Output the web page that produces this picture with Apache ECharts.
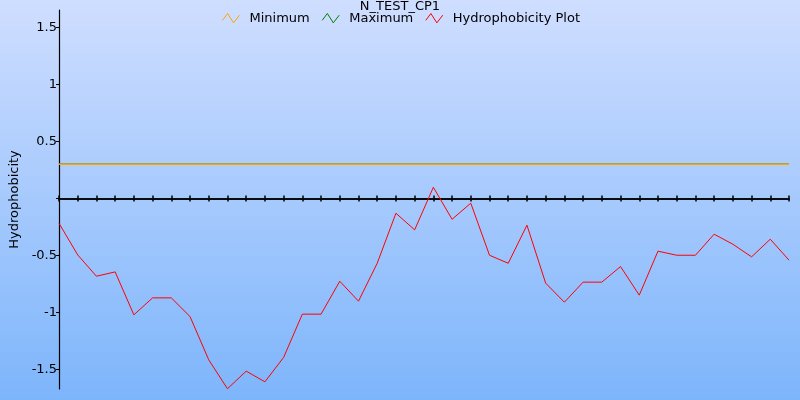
<!DOCTYPE html>
<html>
<head>
<meta charset="utf-8">
<script src="https://cdn.jsdelivr.net/npm/echarts@6/dist/echarts.min.js"></script>
<style>html,body{margin:0;padding:0;}#c{width:800px;height:400px;}</style>
</head>
<body>
<div id="c"></div>
<script>
var positions = ["1","2","3","4","5","6","7","8","9","10","11","12","13","14","15","16","17","18","19","20",
  "21","22","23","24","25","26","27","28","29","30","31","32","33","34","35","36","37","38","39","40"];
var hydrophobicity = [-0.218, -0.496, -0.683, -0.645, -1.022, -0.873, -0.873, -1.037, -1.417, -1.671,
  -1.516, -1.610, -1.396, -1.016, -1.016, -0.727, -0.902, -0.569, -0.130, -0.276,
  0.098, -0.183, -0.042, -0.499, -0.569, -0.235, -0.744, -0.911, -0.735, -0.735,
  -0.598, -0.849, -0.463, -0.499, -0.499, -0.314, -0.402, -0.513, -0.358, -0.542];
var minimumValue = 0.3;
var maximumValue = 0.3;
var minimum = positions.map(function(){ return minimumValue; });
var maximum = positions.map(function(){ return maximumValue; });
var yMin = -1.673, yMax = 1.654;

var font = "DejaVu Sans";
var zig = 'path://M0,8 L6,0 L13,11 L20,2';
var gridBox = {left: 59, right: 11, top: 10, bottom: 11, containLabel: false, outerBoundsMode: 'none'};
var chart = echarts.init(document.getElementById('c'));
chart.setOption({
  animation: false,
  backgroundColor: new echarts.graphic.LinearGradient(0,0,0,1,[{offset:0,color:'#cfdeff'},{offset:1,color:'#7db5fb'}]),
  title: {text: 'N_TEST_CP1', left: 'center', top: -5, textStyle: {fontFamily: font, fontSize: 13, fontWeight: 'normal', color: '#000'}},
  legend: {
    top: 6, left: 'center', itemWidth: 17, itemHeight: 11, itemGap: 10,
    textStyle: {fontFamily: font, fontSize: 13, color: '#000', padding: [0,0,0,5]},
    data: [
      {name: 'Minimum', icon: zig, itemStyle: {color: 'none', borderColor: '#ffa500', borderWidth: 1}},
      {name: 'Maximum', icon: zig, itemStyle: {color: 'none', borderColor: '#008000', borderWidth: 1}},
      {name: 'Hydrophobicity Plot', icon: zig, itemStyle: {color: 'none', borderColor: '#ff0000', borderWidth: 1}}
    ]
  },
  grid: [gridBox, Object.assign({}, gridBox)],
  xAxis: [{
    type: 'category', data: positions, boundaryGap: false, position: 'bottom', gridIndex: 0,
    axisLine: {onZero: true, lineStyle: {color: '#000', width: 1.5}},
    axisTick: {show: true, length: 3, lineStyle: {color: '#000', width: 1.5}, interval: 0},
    axisLabel: {show: false}, splitLine: {show: false}
  }, {
    type: 'category', data: positions, boundaryGap: false, position: 'bottom', gridIndex: 1,
    axisLine: {onZero: true, lineStyle: {color: '#000', width: 1.5}},
    axisTick: {show: true, inside: true, length: 3, lineStyle: {color: '#000', width: 1.5}, interval: 0},
    axisLabel: {show: false}, splitLine: {show: false}
  }],
  yAxis: [{
    type: 'value', min: yMin, max: yMax, splitNumber: 7, gridIndex: 0,
    name: 'Hydrophobicity', nameLocation: 'middle', nameGap: 37,
    nameTextStyle: {fontFamily: font, fontSize: 13, color: '#000'},
    axisLine: {show: true, lineStyle: {color: '#000', width: 1.2}},
    axisTick: {show: true, length: 3, lineStyle: {color: '#000'}},
    axisLabel: {fontFamily: font, fontSize: 13, color: '#000', margin: 2, showMinLabel: false, showMaxLabel: false,
      formatter: function(v){ var r = Math.round(v*2)/2; if (Math.abs(v - r) > 1e-6 || r === 0) return ''; return String(r); }},
    splitLine: {show: false}
  }, {
    type: 'value', min: yMin, max: yMax, gridIndex: 1, show: false
  }],
  series: [
    {name: 'Maximum', type: 'line', data: maximum, showSymbol: false, symbol: 'none', lineStyle: {color: '#008000', width: 1.5}, itemStyle: {color: '#008000'}, z: 1},
    {name: 'Minimum', type: 'line', data: minimum, showSymbol: false, symbol: 'none', lineStyle: {color: '#ffa500', width: 1.5}, itemStyle: {color: '#ffa500'}, z: 2},
    {name: 'Hydrophobicity Plot', type: 'line', data: hydrophobicity, showSymbol: false, symbol: 'none', lineStyle: {color: '#ff0000', width: 1}, itemStyle: {color: '#ff0000'}, z: 3}
  ]
});
</script>
</body>
</html>
